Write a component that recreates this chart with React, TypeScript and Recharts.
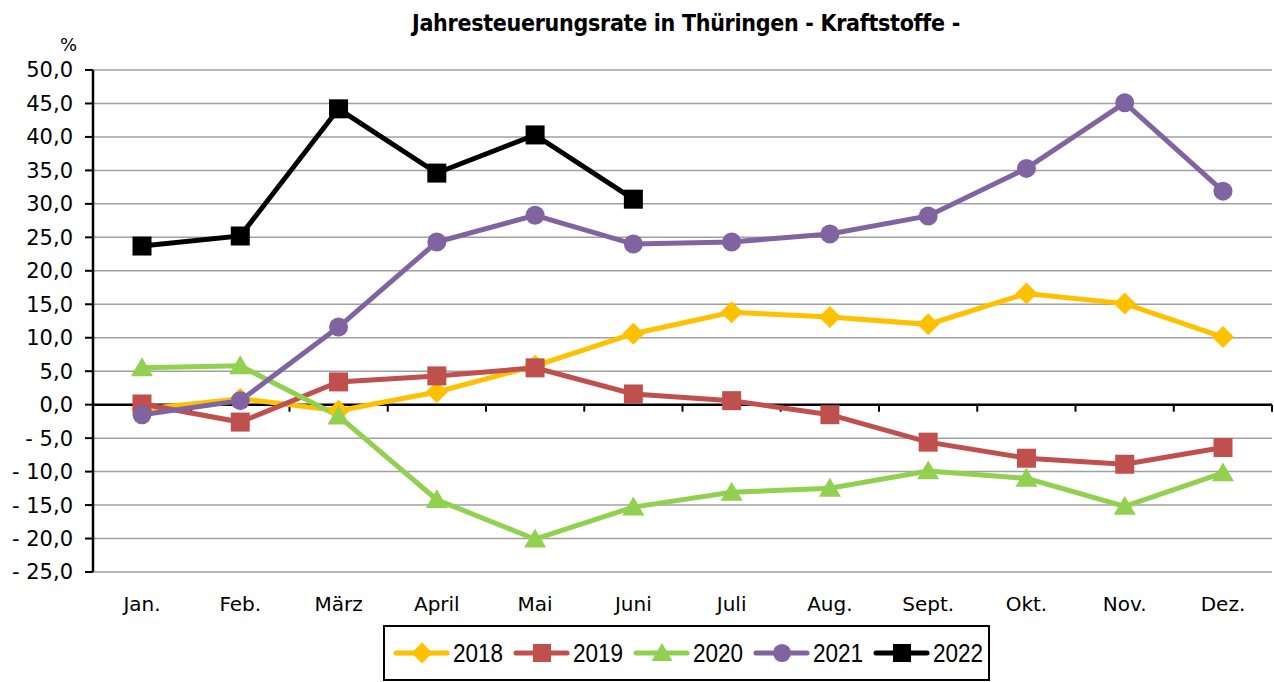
import React from 'react';
import {
  LineChart,
  Line,
  XAxis,
  YAxis,
  CartesianGrid,
  ReferenceLine,
} from 'recharts';

const months = ['Jan.', 'Feb.', 'März', 'April', 'Mai', 'Juni', 'Juli', 'Aug.', 'Sept.', 'Okt.', 'Nov.', 'Dez.'];

const rate2018 = [-0.7, 0.9, -0.9, 1.9, 5.8, 10.6, 13.8, 13.1, 12.0, 16.6, 15.1, 10.1];
const rate2019 = [0.1, -2.6, 3.4, 4.3, 5.5, 1.6, 0.6, -1.5, -5.6, -8.0, -8.9, -6.4];
const rate2020 = [5.5, 5.8, -1.7, -14.2, -20.1, -15.3, -13.1, -12.5, -9.9, -11.0, -15.2, -10.2];
const rate2021 = [-1.5, 0.6, 11.6, 24.3, 28.3, 24.0, 24.3, 25.5, 28.2, 35.3, 45.1, 31.9];
const rate2022 = [23.7, 25.2, 44.2, 34.6, 40.3, 30.7];

const yTicks = [-25, -20, -15, -10, -5, 0, 5, 10, 15, 20, 25, 30, 35, 40, 45, 50];

type Shape = 'diamond' | 'square' | 'triangle' | 'circle';

const series: { key: string; name: string; color: string; shape: Shape }[] = [
  { key: 'y2018', name: '2018', color: '#FFC000', shape: 'diamond' },
  { key: 'y2019', name: '2019', color: '#C0504D', shape: 'square' },
  { key: 'y2020', name: '2020', color: '#92D050', shape: 'triangle' },
  { key: 'y2021', name: '2021', color: '#8064A2', shape: 'circle' },
  { key: 'y2022', name: '2022', color: '#000000', shape: 'square' },
];

const data = months.map((m, i) => ({
  month: m,
  y2018: rate2018[i],
  y2019: rate2019[i],
  y2020: rate2020[i],
  y2021: rate2021[i],
  y2022: i < rate2022.length ? rate2022[i] : null,
}));

const fmt = (v: number) => {
  const s = Math.abs(v).toFixed(1).replace('.', ',');
  return v < 0 ? `- ${s}` : s;
};

const Marker = ({ cx, cy, shape, color, s = 1 }: any) => {
  if (cx == null || cy == null) return null;
  if (shape === 'diamond') {
    const r = 11 * s;
    return <polygon points={`${cx},${cy - r} ${cx + r},${cy} ${cx},${cy + r} ${cx - r},${cy}`} fill={color} />;
  }
  if (shape === 'square') {
    const h = 9.5 * s;
    return <rect x={cx - h} y={cy - h} width={h * 2} height={h * 2} fill={color} />;
  }
  if (shape === 'triangle') {
    const h = 10.5 * s;
    return <polygon points={`${cx},${cy - h} ${cx + h * 1.05},${cy + h * 0.8} ${cx - h * 1.05},${cy + h * 0.8}`} fill={color} />;
  }
  return <circle cx={cx} cy={cy} r={9.5 * s} fill={color} />;
};

// zero line with the category tick marks hanging below it
const ZeroLine = (props: any) => {
  const { x1, x2, y1 } = props;
  if (x1 == null) return null;
  const step = (x2 - x1) / months.length;
  return (
    <g>
      <line x1={x1} x2={x2} y1={y1} y2={y1} stroke="#000" strokeWidth={2.5} />
      {months.map((_, i) => (
        <line key={i} x1={x1 + step * (i + 1)} x2={x1 + step * (i + 1)} y1={y1} y2={y1 + 7} stroke="#000" strokeWidth={2} />
      ))}
    </g>
  );
};

const font = '"DejaVu Sans", Verdana, sans-serif';

export default function App() {
  return (
    <div style={{ position: 'absolute', left: 0, top: 0, width: 1274, height: 682, background: '#fff' }}>
      <div style={{ position: 'absolute', left: 412, top: 10, whiteSpace: 'nowrap', fontFamily: '"DejaVu Sans Condensed", "DejaVu Sans", sans-serif', fontWeight: 'bold', fontSize: 23, color: '#000', letterSpacing: -0.3 }}>
        Jahresteuerungsrate in Thüringen - Kraftstoffe -
      </div>
      <div style={{ position: 'absolute', left: 60, top: 34, fontFamily: font, fontSize: 18 }}>%</div>
      <LineChart width={1274} height={682} data={data} margin={{ top: 70, right: 2, left: 0, bottom: 60 }}>
        <CartesianGrid vertical={false} stroke="#a0a0a0" strokeWidth={1.5} />
        <XAxis
          dataKey="month"
          axisLine={false}
          tickLine={false}
          height={50}
          interval={0}
          padding={{ left: 49, right: 49 }}
          tick={{ fill: '#000', fontSize: 20, fontFamily: font, dy: 17 }}
        />
        <YAxis
          domain={[-25, 50]}
          ticks={yTicks}
          width={93}
          interval={0}
          tickFormatter={fmt}
          axisLine={{ stroke: '#000', strokeWidth: 2.5 }}
          tickLine={{ stroke: '#000', strokeWidth: 2 }}
          tickSize={8}
          tickMargin={12}
          tick={{ fill: '#000', fontSize: 21, fontFamily: font }}
        />
        <ReferenceLine y={0} shape={ZeroLine} />
        {series.map((s) => (
          <Line
            key={s.key}
            dataKey={s.key}
            name={s.name}
            stroke={s.color}
            strokeWidth={5}
            isAnimationActive={false}
            connectNulls={false}
            activeDot={false}
            dot={(p: any) => <Marker key={`${s.key}-${p.index}`} cx={p.cx} cy={p.cy} shape={s.shape} color={s.color} />}
          />
        ))}
      </LineChart>
      <div
        style={{
          position: 'absolute',
          left: 383,
          top: 625,
          width: 607,
          height: 56,
          border: '2px solid #000',
          boxSizing: 'border-box',
          display: 'flex',
          alignItems: 'center',
          paddingLeft: 8,
          fontFamily: '"Liberation Sans", Arial, sans-serif',
          fontSize: 25,
        }}
      >
        {series.map((s) => (
          <div key={s.key} style={{ display: 'flex', alignItems: 'center', width: 120, flex: 'none' }}>
            <svg width={57} height={26}>
              <line x1={3} x2={54} y1={13} y2={13} stroke={s.color} strokeWidth={5} strokeLinecap="round" />
              <Marker cx={29} cy={13} shape={s.shape} color={s.color} s={0.95} />
            </svg>
            <span style={{ display: 'inline-block', transform: 'scaleX(0.9)', transformOrigin: 'left center', marginLeft: 3 }}>{s.name}</span>
          </div>
        ))}
      </div>
    </div>
  );
}
